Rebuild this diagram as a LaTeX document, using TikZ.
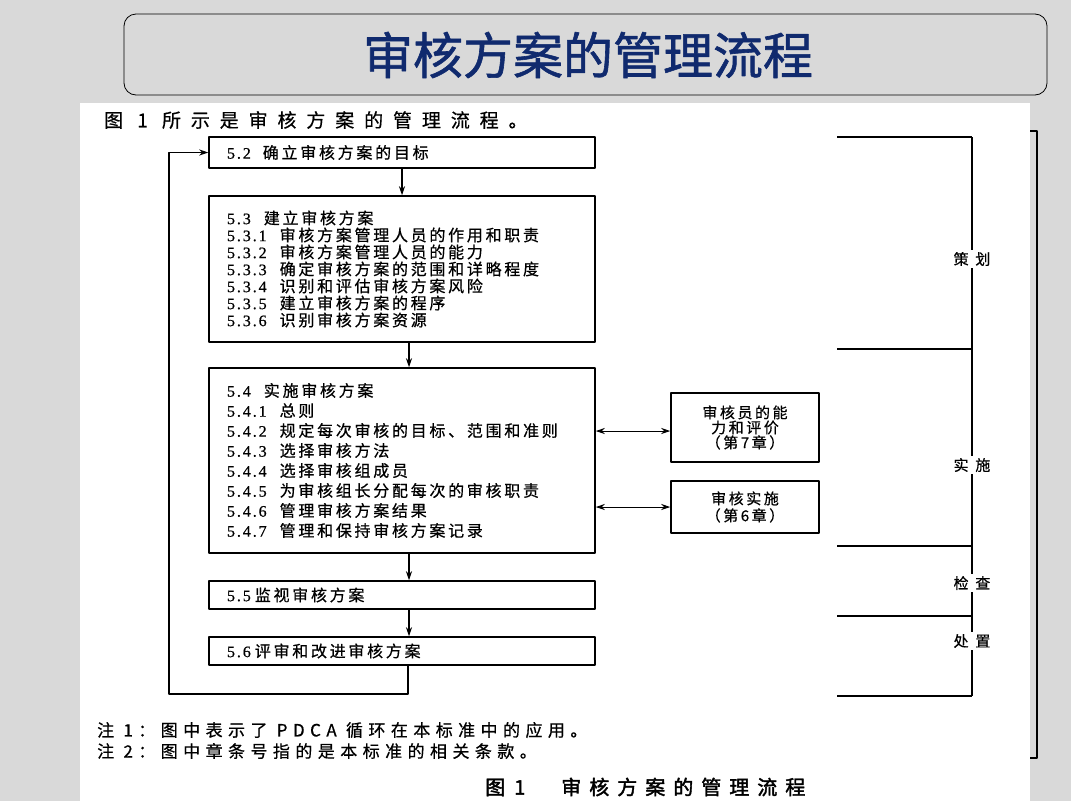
\documentclass[tikz,border=0pt]{standalone}
\usepackage{fontspec}
\setmainfont{Noto Sans CJK SC}
\newfontfamily\songfont[LetterSpace=17,FakeBold=0.6]{Noto Sans CJK SC}
\newfontfamily\notefont[LetterSpace=32,FakeBold=0.6]{Noto Sans CJK SC}
\newfontfamily\headfont[LetterSpace=45,FakeBold=0.6]{Noto Sans CJK SC}
\newfontfamily\introfont[LetterSpace=52,FakeBold=0.6]{Noto Sans CJK SC}
\newfontfamily\capfont[LetterSpace=40,FakeBold=2]{Noto Sans CJK SC}
\newfontfamily\titlefont[FakeBold=1.2]{Noto Sans CJK SC}
\newfontfamily\numfont[LetterSpace=12,FakeBold=0.6]{Liberation Serif}
\usetikzlibrary{arrows.meta}
\definecolor{bgGray}{RGB}{217,217,217}
\definecolor{titleBlue}{RGB}{16,42,110}
% clause number + heading
\newcommand{\cl}[3][13pt]{{\numfont #2}\hspace{#1}#3}

\begin{document}
\begin{tikzpicture}[x=1pt,y=-1pt,>={Stealth[length=9pt,width=6pt]},line join=round,
  box/.style={draw,line width=1.5pt,inner xsep=18pt,inner ysep=0pt,text width=350pt,align=left},
  sidebox/.style={draw,line width=1.5pt,minimum width=148pt,align=center,inner sep=0pt},
  flow/.style={->,line width=1.2pt},
  txt/.style={anchor=west,inner sep=0pt},
  phase/.style={fill=white,inner sep=2pt,font=\headfont\fontsize{15}{15}\selectfont}]
  % page
  \fill[bgGray] (0,0) rectangle (1071,801);
  \useasboundingbox (0,0) rectangle (1071,801);
  \draw[fill=bgGray,rounded corners=12pt,line width=0.8pt] (124,14) rectangle (1047,95);
  \node[titleBlue,font=\titlefont\fontsize{50}{50}\selectfont] (title) at (588,55) {审核方案的管理流程};
  \fill[white] (80,103) rectangle (1030,801);
  \draw[line width=1.3pt] (1030,131) -- (1037,131) -- (1037,758) -- (1030,758);
  \node[txt,font=\introfont\fontsize{19}{19}\selectfont] (intro) at (104,120) {图 1 所示是审核方案的管理流程。};

  % main flow
  \node[box,minimum height=31pt,font=\songfont\fontsize{16}{17}\selectfont] (b52) at (402,152.5) {\cl[12pt]{5.2}{确立审核方案的目标}};
  \node[box,minimum height=146pt,font=\songfont\fontsize{16}{17}\selectfont] (b53) at (402,269) {\cl{5.3}{建立审核方案}\\
    \cl{5.3.1}{审核方案管理人员的作用和职责}\\
    \cl{5.3.2}{审核方案管理人员的能力}\\
    \cl{5.3.3}{确定审核方案的范围和详略程度}\\
    \cl{5.3.4}{识别和评估审核方案风险}\\
    \cl{5.3.5}{建立审核方案的程序}\\
    \cl{5.3.6}{识别审核方案资源}};
  \node[box,minimum height=185pt,font=\songfont\fontsize{16}{20}\selectfont] (b54) at (402,460.5) {\cl{5.4}{实施审核方案}\\
    \cl{5.4.1}{总则}\\
    \cl{5.4.2}{规定每次审核的目标、范围和准则}\\
    \cl{5.4.3}{选择审核方法}\\
    \cl{5.4.4}{选择审核组成员}\\
    \cl{5.4.5}{为审核组长分配每次的审核职责}\\
    \cl{5.4.6}{管理审核方案结果}\\
    \cl{5.4.7}{管理和保持审核方案记录}};
  \node[box,minimum height=28pt,font=\songfont\fontsize{16}{17}\selectfont] (b55) at (402,595) {\cl[4pt]{5.5}{监视审核方案}};
  \node[box,minimum height=28pt,font=\songfont\fontsize{16}{17}\selectfont] (b56) at (402,651) {\cl[4pt]{5.6}{评审和改进审核方案}};

  \draw[flow] (b52) -- (b53);
  \draw[flow] ([xshift=7pt]b53.south) -- ([xshift=7pt]b54.north);
  \draw[flow] ([xshift=7pt]b54.south) -- ([xshift=7pt]b55.north);
  \draw[flow] ([xshift=7pt]b55.south) -- ([xshift=7pt]b56.north);
  \coordinate (loopL) at (169,694);
  \draw[flow] ([xshift=6pt]b56.south) |- (loopL) |- (b52.west);

  % side boxes
  \node[sidebox,minimum height=69pt,font=\songfont\fontsize{15}{15}\selectfont] (s7) at (745,427.5) {审核员的能\\力和评价\\（第7章）};
  \node[sidebox,minimum height=52pt,font=\songfont\fontsize{15}{17}\selectfont] (s6) at (745,507) {审核实施\\（第6章）};
  \coordinate (a7) at ([yshift=-3.5pt]s7.west);
  \draw[<->,line width=1pt] (a7 -| b54.east) -- (a7);
  \draw[<->,line width=1pt] (s6.west -| b54.east) -- (s6.west);

  % PDCA bracket
  \foreach \y in {137,349,546,616,696}
    \draw[line width=1.2pt] (837,\y) -- (972,\y);
  \draw[line width=1.5pt] (972,137) -- (972,696);
  \node[phase] (plan) at (972,259) {策划};
  \node[phase] (do) at (972,465) {实施};
  \node[phase] (check) at (972,583) {检查};
  \node[phase] (act) at (972,641) {处置};

  % notes and caption
  \node[txt,font=\notefont\fontsize{17}{17}\selectfont] (note1) at (97,730) {注 1：图中表示了 PDCA 循环在本标准中的应用。};
  \node[txt,font=\notefont\fontsize{17}{17}\selectfont] (note2) at (97,751) {注 2：图中章条号指的是本标准的相关条款。};
  \node[txt,font=\capfont\fontsize{20}{20}\selectfont] (cap) at (485,787) {图\hspace{9pt}1\hspace{36pt}审核方案的管理流程};
\end{tikzpicture}
\end{document}
